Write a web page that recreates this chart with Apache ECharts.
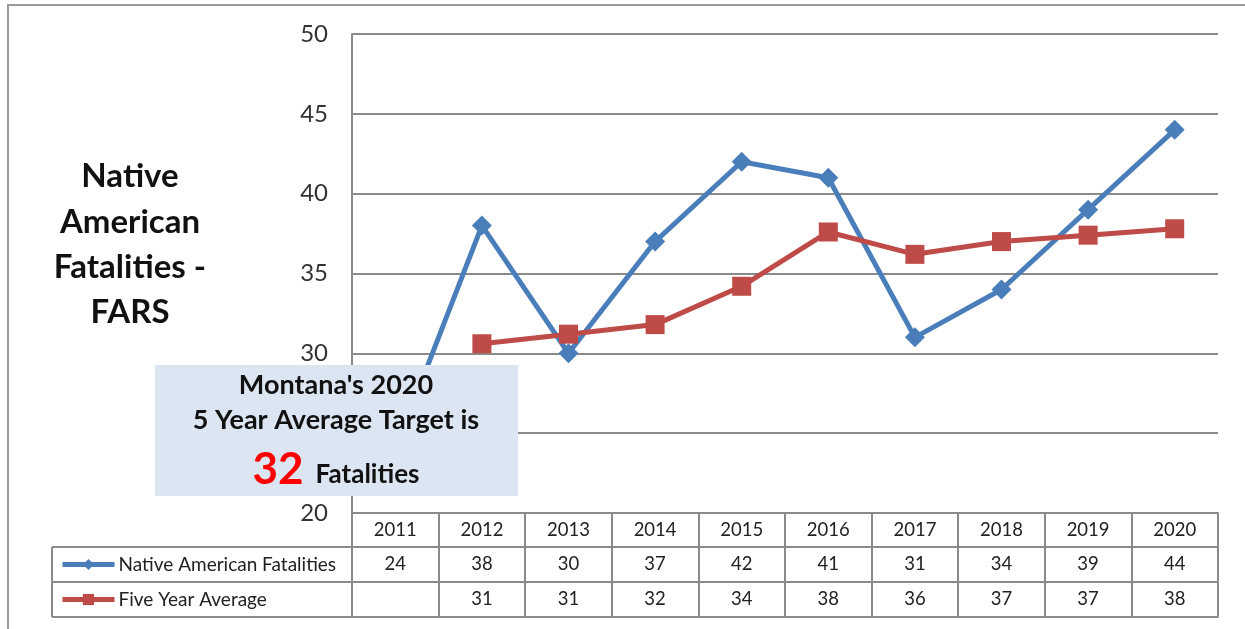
<!DOCTYPE html>
<html>
<head>
<meta charset="utf-8">
<script src="https://cdn.jsdelivr.net/npm/echarts@6/dist/echarts.min.js"></script>
<style>
html,body{margin:0;padding:0;background:#fff;}
#chart{width:1245px;height:629px;}
</style>
</head>
<body>
<div id="chart"></div>
<script>
var years = ['2011','2012','2013','2014','2015','2016','2017','2018','2019','2020'];
var nativeFatalities = [24, 38, 30, 37, 42, 41, 31, 34, 39, 44];
var fiveYearAverage = [null, 30.6, 31.2, 31.8, 34.2, 37.6, 36.2, 37.0, 37.4, 37.8];
var yTicks = [20, 25, 30, 35, 40, 45, 50];
var seriesNames = ['Native American Fatalities', 'Five Year Average'];

var FONT = 'Lato, "Open Sans", sans-serif';
var GRID = '#8a8a8a';
var BLUE = '#4a7ebb';
var RED = '#be4b48';

var chart = echarts.init(document.getElementById('chart'));

function tableAxis(offset, fmt, showLabel, showTick) {
  return {
    type: 'category',
    data: years,
    position: 'bottom',
    offset: offset,
    boundaryGap: true,
    axisLine: {show: true, lineStyle: {color: GRID, width: 2}},
    axisTick: {show: showTick, length: 34, alignWithLabel: false, lineStyle: {color: GRID, width: 2}},
    axisLabel: {show: showLabel, interval: 0, margin: 8, color: '#222', fontSize: 18.5, fontFamily: FONT, formatter: fmt},
    splitLine: {show: false}
  };
}

var option = {
  animation: false,
  backgroundColor: '#fff',
  grid: {left: 352, right: 27, top: 34, bottom: 116, containLabel: false},
  legend: {
    orient: 'vertical',
    left: 55, top: 549,
    itemWidth: 52, itemHeight: 14, itemGap: 14,
    data: [
      {name: seriesNames[0], lineStyle: {width: 5}},
      {name: seriesNames[1], lineStyle: {width: 5}}
    ],
    textStyle: {fontSize: 19, fontFamily: FONT, color: '#222', lineHeight: 21, padding: [0,0,0,-1]},
    selectedMode: false
  },
  xAxis: [
    tableAxis(0, function(v){ return v; }, true, true),
    tableAxis(34, function(v, i){ return String(nativeFatalities[i]); }, true, true),
    tableAxis(69, function(v, i){ return fiveYearAverage[i] == null ? '' : String(Math.round(fiveYearAverage[i])); }, true, true),
    tableAxis(104, function(){ return ''; }, false, false)
  ],
  yAxis: {
    type: 'value',
    min: 20, max: 50, interval: 5,
    axisLine: {show: true, lineStyle: {color: GRID, width: 2}},
    axisTick: {show: false},
    axisLabel: {margin: 24, fontSize: 24, color: '#333', fontFamily: FONT,
      formatter: function(v){ return yTicks.indexOf(v) >= 0 ? String(v) : ''; }},
    splitLine: {show: true, lineStyle: {color: GRID, width: 2}}
  },
  series: [
    {
      name: seriesNames[0], type: 'line', xAxisIndex: 0,
      data: nativeFatalities,
      symbol: 'diamond', symbolSize: 20,
      lineStyle: {color: BLUE, width: 5},
      itemStyle: {color: BLUE},
      z: 3
    },
    {
      name: seriesNames[1], type: 'line', xAxisIndex: 0,
      data: fiveYearAverage,
      symbol: 'rect', symbolSize: 19,
      lineStyle: {color: RED, width: 5},
      itemStyle: {color: RED},
      z: 4
    }
  ],
  graphic: [
    {type: 'rect', shape: {x: 8, y: 5, width: 1250, height: 640}, style: {fill: 'none', stroke: '#9a9a9a', lineWidth: 2}, z: 1, silent: true},
    {type: 'line', shape: {x1: 52, y1: 547, x2: 352, y2: 547}, style: {stroke: GRID, lineWidth: 2}, z: 5},
    {type: 'line', shape: {x1: 52, y1: 582, x2: 352, y2: 582}, style: {stroke: GRID, lineWidth: 2}, z: 5},
    {type: 'line', shape: {x1: 52, y1: 617, x2: 352, y2: 617}, style: {stroke: GRID, lineWidth: 2}, z: 5},
    {type: 'line', shape: {x1: 52, y1: 547, x2: 52, y2: 617}, style: {stroke: GRID, lineWidth: 2}, z: 5},
    {type: 'text', x: 130, y: 154, style: {
      text: 'Native\nAmerican\nFatalities -\nFARS',
      fill: '#111', font: 'bold 33px ' + FONT, align: 'center', lineHeight: 45.3
    }, z: 10},
    {type: 'rect', shape: {x: 155, y: 365, width: 363, height: 131}, style: {fill: '#dce6f2'}, z: 100},
    {type: 'text', x: 336, y: 368, style: {
      text: "Montana's 2020\n5 Year Average Target is",
      fill: '#111', font: 'bold 27px ' + FONT, align: 'center', lineHeight: 35
    }, z: 101},
    {type: 'text', x: 336, y: 444, style: {
      text: '{a|32}{b|Fatalities}',
      align: 'center',
      rich: {
        a: {fill: '#ff0000', fontSize: 44, fontWeight: 'bold', fontFamily: FONT, verticalAlign: 'bottom', lineHeight: 48},
        b: {fill: '#111', fontSize: 26, fontWeight: 'bold', fontFamily: FONT, verticalAlign: 'bottom', lineHeight: 48, padding: [0,0,4,12]}
      }
    }, z: 101}
  ]
};
chart.setOption(option);
</script>
</body>
</html>
